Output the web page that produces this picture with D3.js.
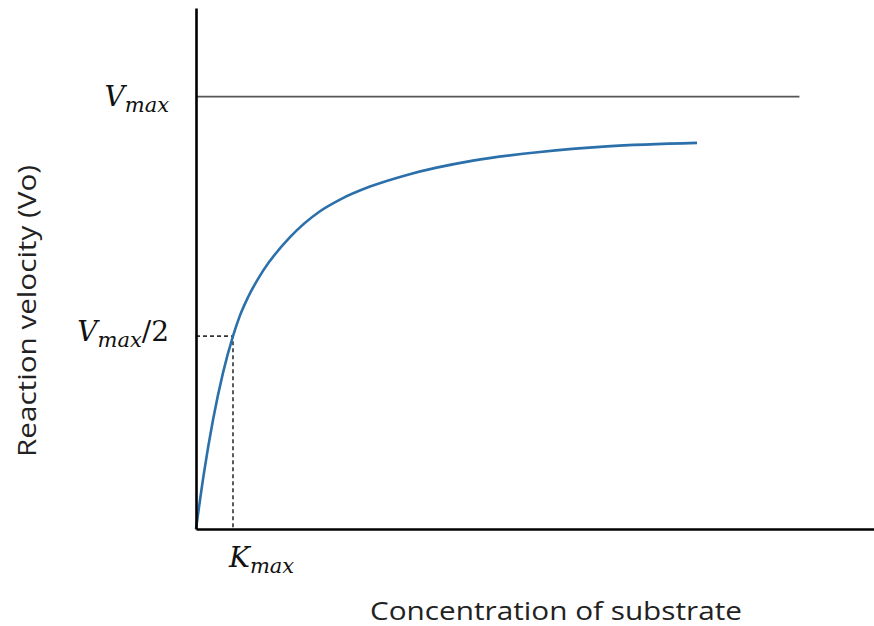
<!DOCTYPE html>
<html>
<head>
<meta charset="utf-8">
<script src="https://cdn.jsdelivr.net/npm/d3@7"></script>
<style>
  body { margin: 0; background: #fff; }
  svg { display: block; }
</style>
</head>
<body>
<svg width="874" height="626"></svg>
<script>
// substrate concentration (arbitrary units) and reaction velocity (fraction of Vmax)
const substrate = [0, 0.236, 0.501, 0.796, 1.091, 1.298, 1.534, 1.976, 2.773, 3.658, 4.248, 5.133, 6.224, 8.171, 10.147, 12.124, 14.779];
const velocity  = [0, 0.130, 0.252, 0.361, 0.446, 0.494, 0.536, 0.597, 0.675, 0.735, 0.762, 0.792, 0.819, 0.852, 0.872, 0.885, 0.893];

const vmax = 1;
const vmaxLineEnd = 17.8;
const kmPoint = [1.091, 0.446];

// tick labels: [base, subscript, tail]
const yTickValues = [vmax, kmPoint[1]];
const yTickLabels = [['V', 'max', ''], ['V', 'max', '/2']];
const xTickValues = [kmPoint[0]];
const xTickLabels = [['K', 'max', '']];

const xTitle = 'Concentration of substrate';
const yTitle = 'Reaction velocity (Vo)';

const svg = d3.select('svg');

const x = d3.scaleLinear().domain([0, 20]).range([196, 874]);
const y = d3.scaleLinear().domain([0, 1.205]).range([529, 8]);

// Vmax reference line
svg.append('line')
  .attr('x1', x(0)).attr('x2', x(vmaxLineEnd))
  .attr('y1', y(vmax)).attr('y2', y(vmax))
  .attr('stroke', '#555').attr('stroke-width', 1.6);

// dashed guides to the half-max point
svg.append('path')
  .attr('d', 'M' + x(0) + ',' + y(kmPoint[1]) + 'H' + x(kmPoint[0]) + 'V' + y(0))
  .attr('fill', 'none')
  .attr('stroke', '#333')
  .attr('stroke-width', 1.6)
  .attr('stroke-dasharray', '4,3');

// curve
const line = d3.line()
  .x(function (d, i) { return x(substrate[i]); })
  .y(function (d) { return y(d); })
  .curve(d3.curveMonotoneX);

svg.append('path')
  .datum(velocity)
  .attr('d', line)
  .attr('fill', 'none')
  .attr('stroke', '#2b70aa')
  .attr('stroke-width', 2.6);

// axes, no ticks
svg.append('g')
  .attr('transform', 'translate(0,' + y(0) + ')')
  .call(d3.axisBottom(x).tickValues([]).tickSizeOuter(0));
svg.append('g')
  .attr('transform', 'translate(' + x(0) + ',0)')
  .call(d3.axisLeft(y).tickValues([]).tickSizeOuter(0));
svg.selectAll('.domain').attr('stroke', '#000').attr('stroke-width', 2.6);

function mathLabel(sel, parts) {
  sel.attr('font-family', '"DejaVu Serif", serif')
    .attr('font-style', 'italic')
    .attr('fill', '#111');
  sel.append('tspan').attr('font-size', 28).text(parts[0]);
  sel.append('tspan').attr('font-size', 21).attr('dy', 6).text(parts[1]);
  if (parts[2]) {
    sel.append('tspan').attr('font-size', 28).attr('dy', -6)
      .attr('font-style', 'normal')
      .text(parts[2]);
  }
}

yTickValues.forEach(function (v, i) {
  const t = svg.append('text')
    .attr('x', x(0) - 27)
    .attr('y', y(v) + (i === 0 ? 9 : 5))
    .attr('text-anchor', 'end');
  mathLabel(t, yTickLabels[i]);
});

xTickValues.forEach(function (v, i) {
  const t = svg.append('text')
    .attr('x', x(v) - 4)
    .attr('y', y(0) + 38);
  mathLabel(t, xTickLabels[i]);
});

// axis titles
svg.append('text')
  .attr('x', 556)
  .attr('y', 620)
  .attr('text-anchor', 'middle')
  .attr('font-family', '"Open Sans", sans-serif')
  .attr('font-size', 25)
  .attr('fill', '#222')
  .attr('textLength', 372)
  .attr('lengthAdjust', 'spacingAndGlyphs')
  .text(xTitle);

svg.append('text')
  .attr('transform', 'translate(36,311) rotate(-90)')
  .attr('text-anchor', 'middle')
  .attr('font-family', '"Open Sans", sans-serif')
  .attr('font-size', 25)
  .attr('fill', '#222')
  .attr('textLength', 292)
  .attr('lengthAdjust', 'spacingAndGlyphs')
  .text(yTitle);
</script>
</body>
</html>
